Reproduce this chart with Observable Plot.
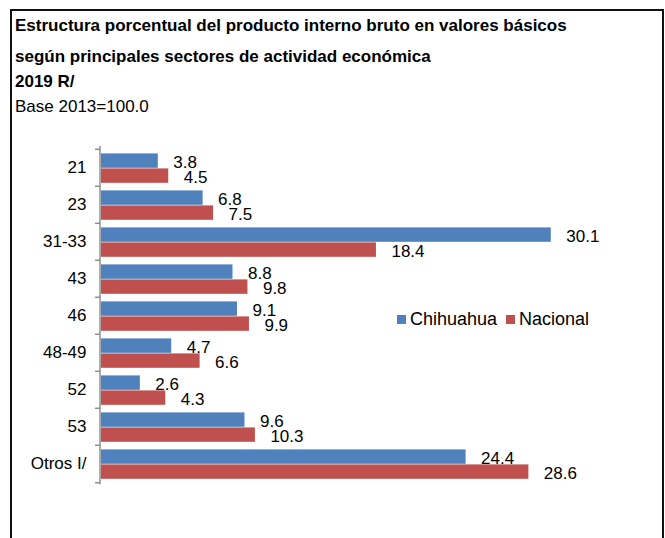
<!DOCTYPE html>
<html><head><meta charset="utf-8">
<script src="https://cdn.jsdelivr.net/npm/d3@7"></script>
<script src="https://cdn.jsdelivr.net/npm/@observablehq/plot@0.6"></script>
<style>
html,body{margin:0;padding:0;background:#fff;overflow:hidden;}
#wrap{position:relative;width:665px;height:538px;font-family:"Liberation Sans",Arial,sans-serif;color:#000;}
.t{position:absolute;left:15px;font-size:17px;line-height:20px;white-space:nowrap;}
.b{font-weight:bold;}
#border{position:absolute;left:10px;top:9px;width:654px;height:529px;border:2px solid #111;border-bottom:none;box-sizing:border-box;z-index:5;pointer-events:none;}
#chart{position:absolute;left:0;top:120px;}
#legend{position:absolute;left:397px;top:309px;display:flex;align-items:center;font-size:18px;line-height:20px;white-space:nowrap;z-index:4;}
.sw{width:9px;height:9px;display:inline-block;margin-right:4px;}
.lg{margin-right:9px;}
</style></head>
<body><div id="wrap">
<div id="border"></div>
<div id="titles"></div>
<div id="chart"></div>
<div id="legend"></div>
</div>
<script>
const titleLines = [
  "Estructura porcentual del producto interno bruto en valores básicos",
  "según principales sectores de actividad económica",
  "2019 R/",
  "Base 2013=100.0"
];
const titleBold = [true, true, true, false];
const titleTops = [15.8, 46.8, 72.4, 97.1];

const categories = ["21", "23", "31-33", "43", "46", "48-49", "52", "53", "Otros I/"];
const seriesNames = ["Chihuahua", "Nacional"];
const chihuahua = [3.8, 6.8, 30.1, 8.8, 9.1, 4.7, 2.6, 9.6, 24.4];
const nacional = [4.5, 7.5, 18.4, 9.8, 9.9, 6.6, 4.3, 10.3, 28.6];
const colors = ["#4F81BD", "#C0504D"];

const titles = document.getElementById("titles");
titleLines.forEach((s, i) => {
  const d = document.createElement("div");
  d.className = "t" + (titleBold[i] ? " b" : "");
  d.style.top = titleTops[i] + "px";
  d.textContent = s;
  titles.appendChild(d);
});

const chi = categories.map((c, i) => ({cat: c, serie: seriesNames[0], value: chihuahua[i]}));
const nac = categories.map((c, i) => ({cat: c, serie: seriesNames[1], value: nacional[i]}));

const half = 18.8;
const chart = Plot.plot({
  width: 665,
  height: 418,
  marginTop: 26,
  marginBottom: 53.7,
  marginLeft: 101,
  marginRight: 41,
  style: {fontFamily: "'Liberation Sans', Arial, sans-serif", fontSize: "17px", background: "transparent", overflow: "visible"},
  x: {domain: [0, 35], axis: null},
  y: {domain: categories, padding: 0, tickSize: 0, tickPadding: 15, label: null},
  marks: [
    Plot.barX(chi, {x: "value", y: "cat", fill: colors[0], insetTop: 4.4, insetBottom: 18.2}),
    Plot.barX(nac, {x: "value", y: "cat", fill: colors[1], insetTop: 19.4, insetBottom: 3.2}),
    Plot.text(chi, {x: "value", y: "cat", text: d => d.value.toFixed(1), textAnchor: "start", dx: 15, dy: -5.8, fill: "#000"}),
    Plot.text(nac, {x: "value", y: "cat", text: d => d.value.toFixed(1), textAnchor: "start", dx: 15, dy: 9.8, fill: "#000"}),
    Plot.ruleX([0], {stroke: "#595959", dx: -1.5}),
    Plot.ruleY(categories, {y: d => d, x1: -0.3, x2: 0, dy: -half, dx: -1.5, stroke: "#595959"}),
    Plot.ruleY(categories.slice(-1), {y: d => d, x1: -0.3, x2: 0, dy: half, dx: -1.5, stroke: "#595959"})
  ]
});
document.getElementById("chart").appendChild(chart);

const legend = document.getElementById("legend");
seriesNames.forEach((n, i) => {
  const sw = document.createElement("span");
  sw.className = "sw";
  sw.style.background = colors[i];
  const tx = document.createElement("span");
  tx.className = "lg";
  tx.textContent = n;
  legend.appendChild(sw);
  legend.appendChild(tx);
});
</script>
</body></html>
